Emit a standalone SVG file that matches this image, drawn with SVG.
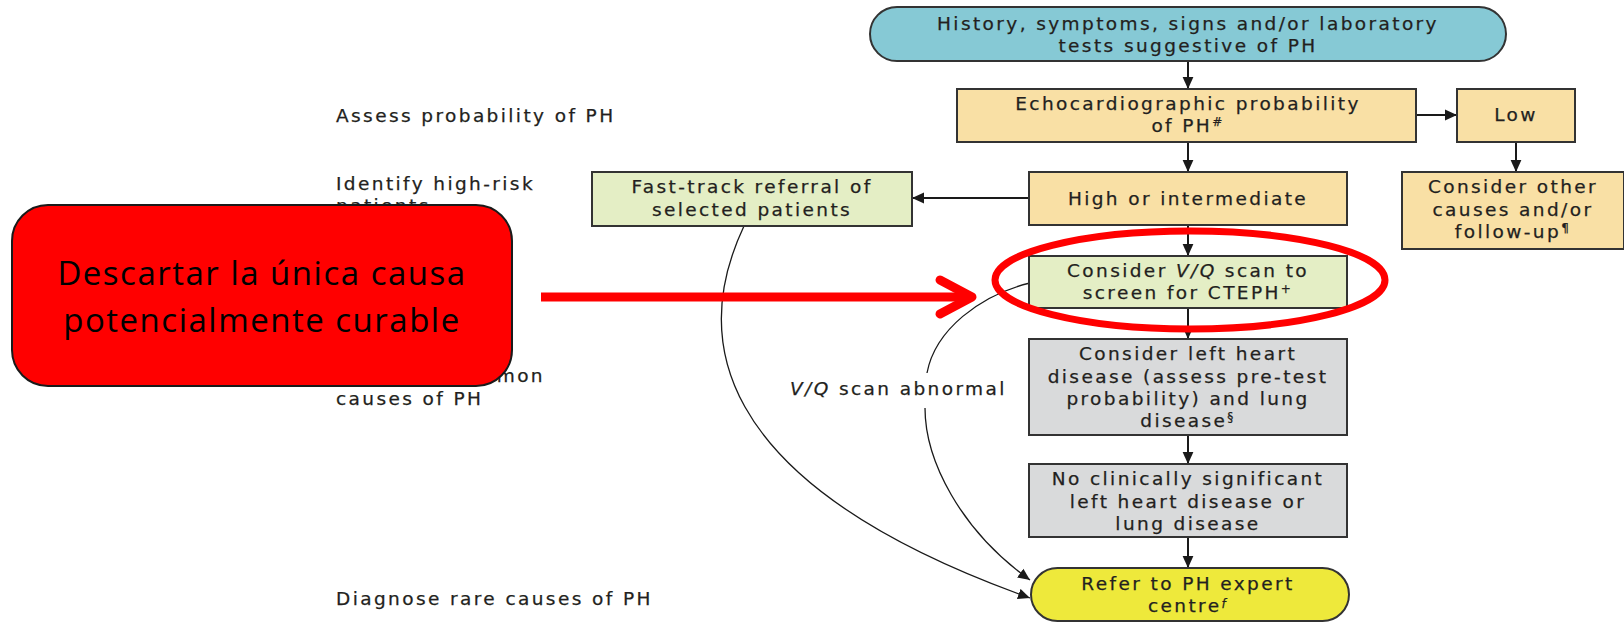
<svg xmlns="http://www.w3.org/2000/svg" width="1624" height="622" viewBox="0 0 1624 622">
  <style>
    .box { stroke: #333; stroke-width: 2; }
    .blue { fill: #86c9d5; }
    .tan { fill: #f9e0a5; }
    .green { fill: #e4eec5; }
    .grey { fill: #d9dadb; }
    .yellow { fill: #eee93b; }
    .t { font-family: "DejaVu Sans", "Liberation Sans", sans-serif; font-size: 18.5px; letter-spacing: 2.4px; fill: #231f20; stroke: #231f20; stroke-width: 0.25; text-anchor: middle; }
    .side { font-family: "DejaVu Sans", "Liberation Sans", sans-serif; font-size: 18.5px; letter-spacing: 2.4px; fill: #231f20; stroke: #231f20; stroke-width: 0.25; }
    .sup { font-size: 12px; }
    .it { font-style: italic; }
    .conn { fill: none; stroke: #1a1a1a; stroke-width: 2; }
    .curve { fill: none; stroke: #1a1a1a; stroke-width: 1.3; }
    .red { fill: none; stroke: #ff0000; }
    .note { font-family: "Open Sans", "Liberation Sans", sans-serif; font-size: 33px; letter-spacing: 1.5px; fill: #000; text-anchor: middle; }
  </style>
  <defs>
    <marker id="ah" viewBox="0 0 10 10" refX="10" refY="5" markerWidth="12" markerHeight="12" markerUnits="userSpaceOnUse" orient="auto">
      <path d="M0,0.5 L10,5 L0,9.5 z" fill="#1a1a1a"/>
    </marker>
  </defs>

  <rect width="1624" height="622" fill="#ffffff"/>

  <!-- step labels down the left margin -->
  <g id="steps">
    <text class="side" x="336" y="122">Assess probability of PH</text>
    <text class="side" x="336" y="190">Identify high-risk</text>
    <text class="side" x="336" y="212">patients</text>
    <text class="side" x="336" y="382">Diagnose common</text>
    <text class="side" x="336" y="405">causes of PH</text>
    <text class="side" x="336" y="605">Diagnose rare causes of PH</text>
  </g>

  <!-- connectors -->
  <g id="connectors">
    <path class="conn" d="M1188 61 V89" marker-end="url(#ah)"/>
    <path class="conn" d="M1188 142 V172" marker-end="url(#ah)"/>
    <path class="conn" d="M1416 115 H1457" marker-end="url(#ah)"/>
    <path class="conn" d="M1516 142 V172" marker-end="url(#ah)"/>
    <path class="conn" d="M1029 198 H912" marker-end="url(#ah)"/>
    <path class="conn" d="M1188 225 V256" marker-end="url(#ah)"/>
    <path class="conn" d="M1188 308 V339" marker-end="url(#ah)"/>
    <path class="conn" d="M1188 435 V464" marker-end="url(#ah)"/>
    <path class="conn" d="M1188 537 V568" marker-end="url(#ah)"/>
    <!-- fast-track referral to expert centre -->
    <path class="curve" d="M744 226 C695 330, 700 480, 1030 598" marker-end="url(#ah)"/>
    <!-- V/Q scan abnormal -->
    <path class="curve" d="M1030 283 C980 295, 935 330, 927 373"/>
    <path class="curve" d="M925 408 C925 460, 960 530, 1030 580" marker-end="url(#ah)"/>
    <text class="side" x="790" y="395"><tspan class="it">V/Q</tspan> scan abnormal</text>
  </g>

  <g id="n-history">
    <rect class="box blue" x="870" y="7" width="636" height="54" rx="27"/>
    <text class="t" x="1188" y="30">History, symptoms, signs and/or laboratory</text>
    <text class="t" x="1188" y="52">tests suggestive of PH</text>
  </g>

  <g id="n-echo">
    <rect class="box tan" x="957" y="89" width="459" height="53"/>
    <text class="t" x="1188" y="110">Echocardiographic probability</text>
    <text class="t" x="1188" y="132">of PH<tspan class="sup" dy="-6">#</tspan></text>
  </g>

  <g id="n-low">
    <rect class="box tan" x="1457" y="89" width="118" height="53"/>
    <text class="t" x="1516" y="121">Low</text>
  </g>

  <g id="n-other">
    <rect class="box tan" x="1402" y="172" width="222" height="77"/>
    <text class="t" x="1513" y="193">Consider other</text>
    <text class="t" x="1513" y="216">causes and/or</text>
    <text class="t" x="1513" y="238">follow-up<tspan class="sup" dy="-6">¶</tspan></text>
  </g>

  <g id="n-high">
    <rect class="box tan" x="1029" y="172" width="318" height="53"/>
    <text class="t" x="1188" y="205">High or intermediate</text>
  </g>

  <g id="n-fasttrack">
    <rect class="box green" x="592" y="172" width="320" height="54"/>
    <text class="t" x="752" y="193">Fast-track referral of</text>
    <text class="t" x="752" y="216">selected patients</text>
  </g>

  <g id="n-vq">
    <rect class="box green" x="1029" y="256" width="318" height="52"/>
    <text class="t" x="1188" y="277">Consider <tspan class="it">V/Q</tspan> scan to</text>
    <text class="t" x="1188" y="299">screen for CTEPH<tspan class="sup" dy="-6">+</tspan></text>
  </g>

  <g id="n-leftheart">
    <rect class="box grey" x="1029" y="339" width="318" height="96"/>
    <text class="t" x="1188" y="360">Consider left heart</text>
    <text class="t" x="1188" y="383">disease (assess pre-test</text>
    <text class="t" x="1188" y="405">probability) and lung</text>
    <text class="t" x="1188" y="427">disease<tspan class="sup" dy="-6">§</tspan></text>
  </g>

  <g id="n-noclin">
    <rect class="box grey" x="1029" y="464" width="318" height="73"/>
    <text class="t" x="1188" y="485">No clinically significant</text>
    <text class="t" x="1188" y="508">left heart disease or</text>
    <text class="t" x="1188" y="530">lung disease</text>
  </g>

  <g id="n-refer">
    <rect class="box yellow" x="1031" y="568" width="318" height="53" rx="26.5"/>
    <text class="t" x="1188" y="590">Refer to PH expert</text>
    <text class="t" x="1188" y="612">centre<tspan class="sup it" dy="-4">f</tspan></text>
  </g>

  <!-- highlight: red callout, arrow and ring -->
  <g id="highlight">
    <ellipse class="red" cx="1190" cy="280" rx="195" ry="49" stroke-width="7"/>
    <path class="red" d="M541 297 H968" stroke-width="9"/>
    <path class="red" d="M940 280 L972 297 L940 314" stroke-width="9" stroke-linecap="round" stroke-linejoin="round"/>
  </g>

  <g id="n-callout">
    <rect x="12" y="205" width="500" height="181" rx="36" fill="#ff0000" stroke="#1a1a1a" stroke-width="2"/>
    <text class="note" x="262" y="285">Descartar la única causa</text>
    <text class="note" x="262" y="332">potencialmente curable</text>
  </g>
</svg>
